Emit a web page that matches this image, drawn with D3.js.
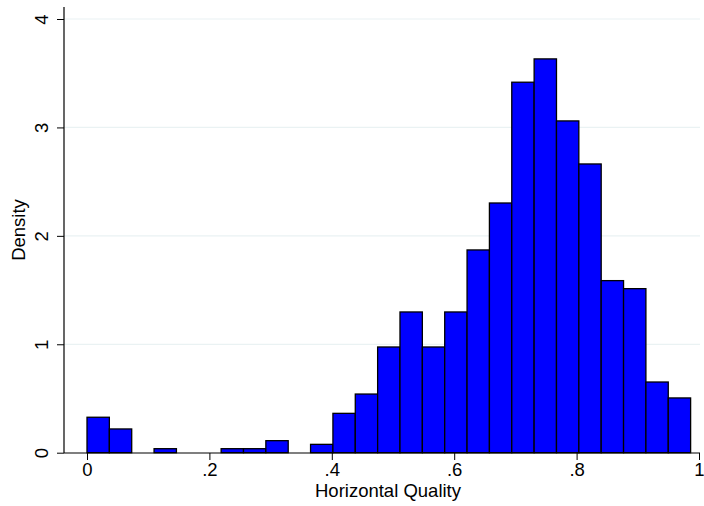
<!DOCTYPE html>
<html>
<head>
<meta charset="utf-8">
<script src="https://cdn.jsdelivr.net/npm/d3@7"></script>
<style>
    body { margin: 0; background: #fff; }
    text { font-family: "Liberation Sans", Arial, sans-serif; fill: #000; }
</style>
</head>
<body>
<div id="plot"></div>
<script>
let width = 704;
let height = 506;

// histogram: 27 equal bins starting at 0
let binWidth = 0.03653;
let densities = [0.327, 0.219, 0, 0.037, 0, 0, 0.037, 0.037, 0.111, 0,
    0.077, 0.363, 0.541, 0.975, 1.298, 0.975, 1.298, 1.870, 2.303, 3.417,
    3.632, 3.060, 2.663, 1.587, 1.513, 0.652, 0.505];

let xTicks = [0, 0.2, 0.4, 0.6, 0.8, 1];
let xTickLabels = ["0", ".2", ".4", ".6", ".8", "1"];
let yTicks = [0, 1, 2, 3, 4];
let yTickLabels = ["0", "1", "2", "3", "4"];

let plotLeft = 64;
let plotRight = 700;
let plotTop = 7;
let plotBottom = 453;
let fontSize = "18.5px";

let svg = d3.select("#plot")
    .append("svg")
    .attr("width", width)
    .attr("height", height);

let xScale = d3.scaleLinear()
    .domain([0, 1])
    .range([87, 699]);

let yScale = d3.scaleLinear()
    .domain([0, 4])
    .range([452.7, 19]);

// grid
svg.append("g")
    .selectAll("line")
    .data(yTicks.filter(d => d > 0))
    .enter()
    .append("line")
    .attr("x1", plotLeft)
    .attr("x2", plotRight)
    .attr("y1", d => yScale(d))
    .attr("y2", d => yScale(d))
    .style("stroke", "#eaf2f3")
    .style("stroke-width", 1.2);

// bars
let bins = densities.map((d, i) => {
    return {x0: i * binWidth, x1: (i + 1) * binWidth, density: d};
});

svg.append("g")
    .selectAll("rect")
    .data(bins.filter(b => b.density > 0))
    .enter()
    .append("rect")
    .attr("x", d => xScale(d.x0))
    .attr("y", d => yScale(d.density))
    .attr("width", d => xScale(d.x1) - xScale(d.x0))
    .attr("height", d => yScale(0) - yScale(d.density))
    .style("fill", "#0000ff")
    .style("stroke", "#000")
    .style("stroke-width", 1.3);

// x axis
let xAxis = d3.axisBottom(xScale)
    .tickValues(xTicks)
    .tickFormat((d, i) => xTickLabels[i])
    .tickSize(7)
    .tickPadding(3);

let xg = svg.append("g")
    .attr("transform", "translate(0," + plotBottom + ")")
    .call(xAxis);
xg.select(".domain").remove();
xg.selectAll("text").style("font-size", fontSize);
xg.selectAll("line").style("stroke", "#000");

svg.append("line")
    .attr("x1", plotLeft)
    .attr("x2", plotRight)
    .attr("y1", plotBottom)
    .attr("y2", plotBottom)
    .style("stroke", "#000")
    .style("stroke-width", 1.2);

// y axis
let yAxis = d3.axisLeft(yScale)
    .tickValues(yTicks)
    .tickFormat((d, i) => yTickLabels[i])
    .tickSize(7);

let yg = svg.append("g")
    .attr("transform", "translate(" + plotLeft + ",0)")
    .call(yAxis);
yg.select(".domain").remove();
yg.selectAll("line").style("stroke", "#000");
yg.selectAll("text")
    .attr("x", 0)
    .attr("y", -16)
    .attr("dy", 0)
    .attr("transform", "rotate(-90)")
    .style("text-anchor", "middle")
    .style("font-size", fontSize);

svg.append("line")
    .attr("x1", plotLeft)
    .attr("x2", plotLeft)
    .attr("y1", plotTop)
    .attr("y2", plotBottom)
    .style("stroke", "#000")
    .style("stroke-width", 1.2);

// axis titles
svg.append("text")
    .attr("x", 388)
    .attr("y", 497)
    .style("text-anchor", "middle")
    .style("font-size", fontSize)
    .text("Horizontal Quality");

let yLabelCenter = {x: 25, y: 230};
svg.append("text")
    .attr("x", yLabelCenter.x)
    .attr("y", yLabelCenter.y)
    .style("text-anchor", "middle")
    .style("font-size", fontSize)
    .attr("transform", "rotate(-90," + yLabelCenter.x + "," + yLabelCenter.y + ")")
    .text("Density");
</script>
</body>
</html>
